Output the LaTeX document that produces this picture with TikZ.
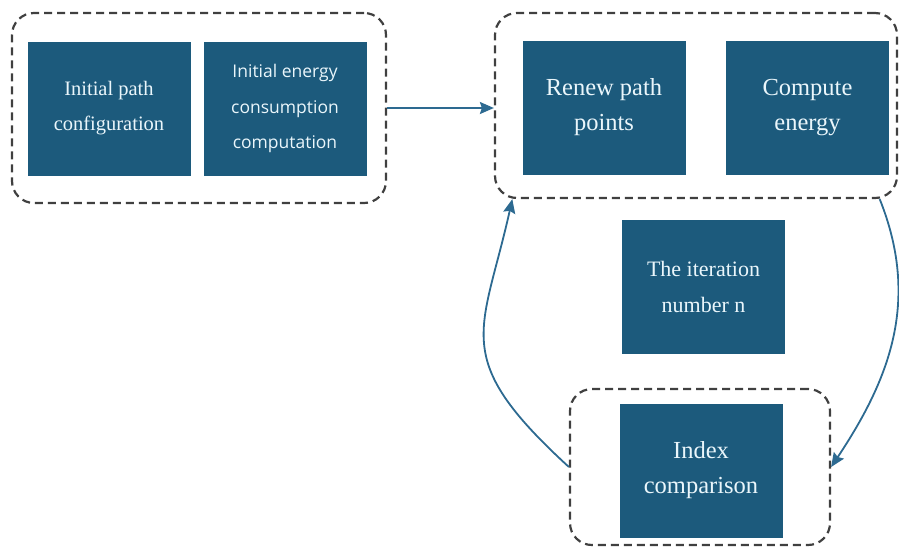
\documentclass[tikz,border=0pt]{standalone}
\usepackage{fontspec}
\setmainfont{Liberation Serif}
\newfontfamily\blocksans{Open Sans}
\usetikzlibrary{arrows.meta}
\definecolor{blk}{HTML}{1C5A7C}
\definecolor{flw}{HTML}{2D6A91}
\definecolor{grp}{HTML}{404040}
\definecolor{txt}{HTML}{EAF6FB}
\tikzset{
  block/.style={fill=blk, text=txt, align=center, inner sep=0pt,
    minimum width=163pt, minimum height=134pt},
  group/.style={draw=grp, dash pattern=on 8pt off 5pt, line width=2.2pt,
    rounded corners=22pt, inner sep=0pt},
  flow/.style={-{Stealth[length=14pt,width=12pt,inset=2pt]}, line width=1.8pt, flw},
  sflab/.style={font=\fontsize{20.5}{35}\selectfont},
  mflab/.style={font=\fontsize{22}{36}\selectfont},
  bflab/.style={font=\fontsize{24.5}{35}\selectfont},
  sanslab/.style={font=\blocksans\fontsize{17.5}{35.5}\selectfont},
}
\begin{document}
\begin{tikzpicture}[x=1pt,y=-1pt]
\useasboundingbox (0,0) rectangle (899,547);

% ============ dashed groups ===============
\node[group, minimum width=374pt, minimum height=190pt] (grpA) at (199,108) {};
\node[group, minimum width=402pt, minimum height=185pt] (grpB) at (696,105.5) {};
\node[group, minimum width=260pt, minimum height=156pt] (grpC) at (700,467) {};

% ============ blocks ===============
\node[block, sflab] (init) at (109,108.5) {Initial path\\configuration};
\node[block, sanslab] (energy0) at (285,108.5)
  {Initial energy\\consumption\\computation};
\node[block, bflab] (renew) at (604,107.5) {Renew path\\points};
\node[block, bflab] (energy) at (807.5,107.5) {Compute\\energy};
\node[block, mflab] (iter) at (703.5,286.5) {The iteration\\number n};
\node[block, bflab] (compare) at (701,470.5) {Index\\comparison};

% ============ connectors ===============
\draw[flow] (grpA.east) -- (grpB.west |- grpA.east);
\draw[flow] (grpC.west) .. controls +(-120,-110) and +(-30,135) .. (grpB.-153);
\draw[flow] (grpB.-27) .. controls +(40,100) and +(60,-90) .. (grpC.east);

\end{tikzpicture}
\end{document}
